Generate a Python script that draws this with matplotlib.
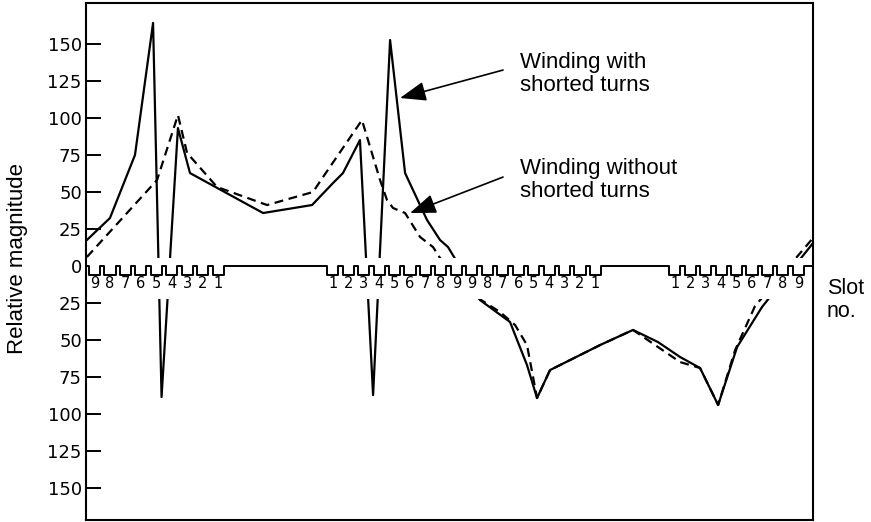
import matplotlib.pyplot as plt
import numpy as np

plt.rcParams['font.family'] = ['Liberation Sans', 'DejaVu Sans']

# winding with shorted turns (solid) - x in slot pitches, y relative magnitude
with_x = [0.06, 1.55, 3.17, 4.34, 4.89, 5.95, 6.73, 11.46, 14.63, 15.99, 16.63,
          17.73, 18.58, 19.68, 20.65, 22.07, 22.91, 23.43, 25.50, 27.44, 28.54,
          29.19, 30.03, 33.27, 35.40, 37.02, 38.45, 39.74, 40.91, 42.14, 43.75,
          47.05]
with_y = [17.6, 32.4, 75.0, 164.2, -88.5, 93.2, 62.8, 35.8, 41.2, 56.1, 62.8,
          85.1, -87.2, 152.7, 62.8, 31.1, 17.6, 12.8, -23.0, -37.8, -66.9,
          -89.2, -70.3, -53.4, -43.2, -51.4, -61.5, -68.9, -93.9, -54.7, -27.7,
          15.5]

# winding without shorted turns (dashed)
without_x = [0.06, 4.60, 5.95, 6.54, 8.48, 11.72, 14.69, 15.34, 17.86, 19.03,
             19.48, 19.87, 20.65, 21.62, 22.46, 22.91, 25.37, 26.80, 27.77,
             28.54, 29.19, 30.03, 33.27, 35.40, 36.83, 38.45, 39.74, 40.91,
             42.01, 43.30, 47.05]
without_y = [6.1, 58.1, 102.0, 76.4, 53.4, 41.2, 50.0, 60.1, 98.6, 58.1,
             44.6, 39.2, 35.8, 19.6, 12.8, 5.4, -21.6, -31.1, -39.9,
             -53.4, -89.2, -70.3, -53.4, -43.2, -53.4, -64.9, -68.9, -93.9,
             -56.8, -27.0, 18.9]

# slot groups: (start position, slot labels)
slot_groups = [
    (0.05, ['9', '8', '7', '6', '5', '4', '3', '2', '1']),
    (15.47, ['1', '2', '3', '4', '5', '6', '7', '8', '9',
             '9', '8', '7', '6', '5', '4', '3', '2', '1']),
    (37.6, ['1', '2', '3', '4', '5', '6', '7', '8', '9']),
]

ytick_vals = [150, 125, 100, 75, 50, 25, 0, -25, -50, -75, -100, -125, -150]

fig = plt.figure(figsize=(8.71, 5.22), dpi=100)
ax = fig.add_axes([86 / 871, 2 / 522, 727 / 871, 517 / 522])
ax.set_xlim(0, 47.05)
ax.set_ylim(-171.6, 177.7)

ax.plot(with_x, with_y, color='black', lw=1.6, zorder=2)
ax.plot(without_x, without_y, color='black', lw=1.6, ls=(0, (4, 2.5)), zorder=2)

# white band where the slot strip hides the curves
ax.axhspan(-22.5, 5.5, color='white', zorder=3, lw=0)

# slot strip (square wave along zero) and slot numbers
sx, sy = [0], [0]
for start, labels in slot_groups:
    for i, lab in enumerate(labels):
        c = start + 0.5 + i
        sx += [c - 0.36, c - 0.36, c + 0.36, c + 0.36]
        sy += [0, -6, -6, 0]
        ax.text(c, -11.5, lab, ha='center', va='center', fontsize=10.5,
                family='DejaVu Sans', zorder=5)
sx.append(47.05)
sy.append(0)
ax.plot(sx, sy, color='black', lw=1.4, zorder=4, clip_on=False)

ax.set_xticks([])
ax.set_yticks(ytick_vals)
ax.set_yticklabels([str(abs(v)) for v in ytick_vals], family='DejaVu Sans')
ax.tick_params(axis='y', direction='in', length=11, width=1.4, labelsize=13, pad=3)
for s in ax.spines.values():
    s.set_linewidth(1.5)
    s.set_zorder(6)

arrow = dict(arrowstyle='-|>,head_length=0.8,head_width=0.3', mutation_scale=20,
             lw=1.2, color='black', shrinkA=0, shrinkB=0)
ax.annotate('', xy=(20.32, 113.5), xytext=(26.99, 132.4), arrowprops=arrow, zorder=5)
ax.annotate('', xy=(20.97, 35.8), xytext=(26.99, 60.1), arrowprops=arrow, zorder=5)
ax.text(28.09, 129.7, 'Winding with\nshorted turns', ha='left', va='center',
        fontsize=16, linespacing=1.1)
ax.text(28.09, 58.1, 'Winding without\nshorted turns', ha='left', va='center',
        fontsize=16, linespacing=1.1)
ax.text(47.96, -23, 'Slot\nno.', ha='left', va='center', fontsize=15.5,
        linespacing=1.15, clip_on=False)

fig.text(18 / 871, 0.504, 'Relative magnitude', rotation=90, ha='center',
         va='center', fontsize=16)

fig.savefig('out.png', dpi=100)
